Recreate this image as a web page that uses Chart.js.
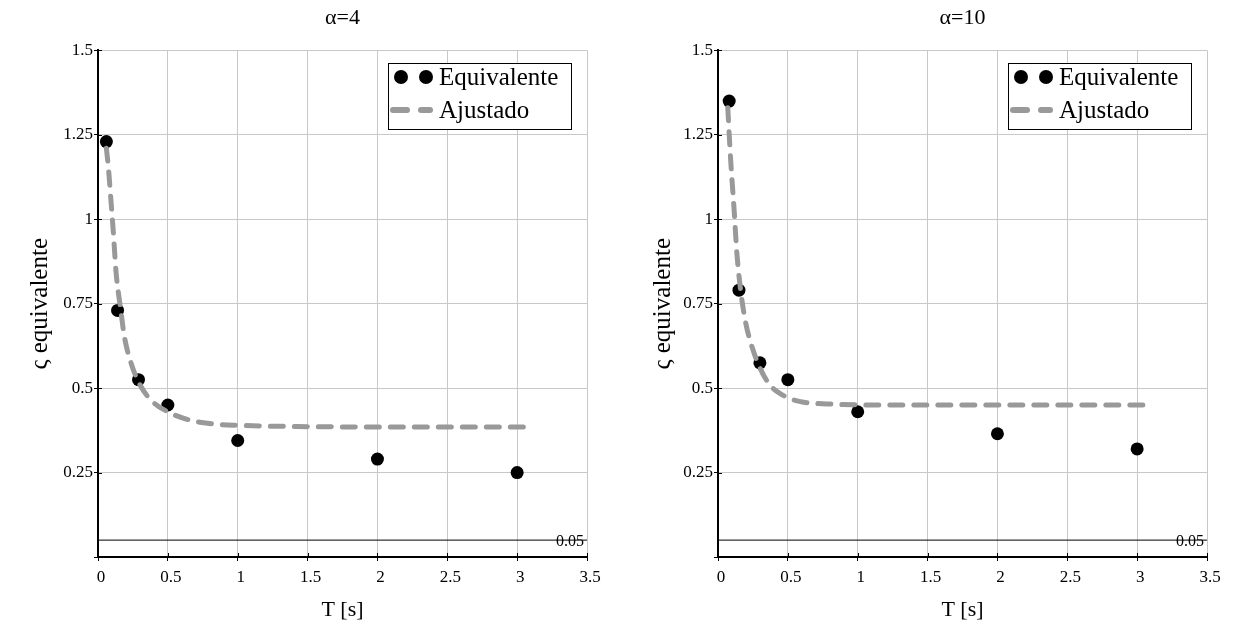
<!DOCTYPE html>
<html>
<head>
<meta charset="utf-8">
<script src="https://cdn.jsdelivr.net/npm/chart.js@4.4.1/dist/chart.umd.min.js"></script>
<style>
  body { margin: 0; width: 1233px; height: 637px; overflow: hidden; background: #fff; position: relative; }
  .panel { position: absolute; top: 0; height: 637px; }
  .legend { position: absolute; left: 388px; top: 63px; width: 184px; height: 67px; box-sizing: border-box;
    border: 1px solid #000; background: #fff; font-family: 'Liberation Serif', 'Times New Roman', serif; font-size: 25px; }
  .legend span { position: absolute; }
  .dot { width: 14px; height: 14px; border-radius: 50%; background: #000; top: 6px; }
  .dash { height: 6px; border-radius: 3px; background: #999; top: 43px; }
  .lbl { left: 50px; line-height: 30px; color: #000; }
</style>
</head>
<body>
<div class="panel" style="left:0; width:616px;">
  <canvas id="chart4"></canvas>
  <div class="legend">
    <span class="dot" style="left:5px"></span><span class="dot" style="left:30px"></span>
    <span class="lbl" style="top:-2px">Equivalente</span>
    <span class="dash" style="left:1px; width:20px"></span><span class="dash" style="left:29px; width:15px"></span>
    <span class="lbl" style="top:31px">Ajustado</span>
  </div>
</div>
<div class="panel" style="left:620px; width:613px;">
  <canvas id="chart10"></canvas>
  <div class="legend">
    <span class="dot" style="left:5px"></span><span class="dot" style="left:30px"></span>
    <span class="lbl" style="top:-2px">Equivalente</span>
    <span class="dash" style="left:1px; width:20px"></span><span class="dash" style="left:29px; width:15px"></span>
    <span class="lbl" style="top:31px">Ajustado</span>
  </div>
</div>
<script>
// axes
const xTicks = [0, 0.5, 1, 1.5, 2, 2.5, 3, 3.5];
const yTicks = [0, 0.25, 0.5, 0.75, 1, 1.25, 1.5];
const refLevel = 0.05;

// alpha = 4
const tEq4 = [0.06, 0.14, 0.29, 0.5, 1, 2, 3];
const sEq4 = [1.23, 0.73, 0.525, 0.45, 0.345, 0.29, 0.25];
const tFit4 = [0.06, 0.075, 0.09, 0.11, 0.13, 0.16, 0.19, 0.24, 0.3, 0.39, 0.5, 0.66, 0.8, 1, 1.5, 2, 2.5, 3.08];
const sFit4 = [1.21, 1.15, 1.07, 0.96, 0.84, 0.74, 0.65, 0.57, 0.51, 0.46, 0.43, 0.405, 0.395, 0.39, 0.386, 0.385, 0.385, 0.385];

// alpha = 10
const tEq10 = [0.08, 0.15, 0.3, 0.5, 1, 2, 3];
const sEq10 = [1.35, 0.79, 0.575, 0.525, 0.43, 0.365, 0.32];
const tFit10 = [0.07, 0.09, 0.115, 0.135, 0.165, 0.2, 0.245, 0.3, 0.37, 0.46, 0.59, 0.8, 1.16, 2, 3.08];
const sFit10 = [1.33, 1.18, 1.03, 0.9, 0.78, 0.69, 0.62, 0.56, 0.51, 0.48, 0.46, 0.453, 0.45, 0.45, 0.45];

const serif = "'Liberation Serif', 'Times New Roman', serif";
Chart.defaults.font.family = serif;
Chart.defaults.color = "#000";

const pairs = (xs, ys) => xs.map((x, i) => ({ x: x, y: ys[i] }));

// 0.05 marker label + small ticks inside the axes
const extras = {
  id: "extras",
  afterDraw(chart) {
    const { ctx, chartArea, scales } = chart;
    const py = scales.y.getPixelForValue(refLevel);
    ctx.save();
    ctx.font = "16px " + serif;
    ctx.fillStyle = "#000";
    ctx.textAlign = "right";
    ctx.textBaseline = "middle";
    ctx.fillText(String(refLevel), chartArea.right - 3, py + 2);
    ctx.strokeStyle = "#000";
    ctx.lineWidth = 1;
    ctx.beginPath();
    scales.x.ticks.forEach(t => {
      const px = Math.round(scales.x.getPixelForValue(t.value)) + 0.5;
      ctx.moveTo(px, chartArea.bottom);
      ctx.lineTo(px, chartArea.bottom - 4);
    });
    scales.y.ticks.forEach(t => {
      const p = Math.round(scales.y.getPixelForValue(t.value)) + 0.5;
      ctx.moveTo(chartArea.left, p);
      ctx.lineTo(chartArea.left + 4, p);
    });
    ctx.stroke();
    ctx.restore();
  }
};

const makeChart = (id, title, tEq, sEq, tFit, sFit, padRight, yTitlePad) => {
  const config = {
    type: "scatter",
    data: {
      datasets: [
        {
          label: "Ajustado",
          data: pairs(tFit, sFit),
          showLine: true,
          borderColor: "#999999",
          borderWidth: 5,
          borderDash: [13, 11],
          borderCapStyle: "round",
          cubicInterpolationMode: "monotone",
          pointRadius: 0,
          fill: false,
        },
        {
          label: "Equivalente",
          data: pairs(tEq, sEq),
          backgroundColor: "#000",
          borderWidth: 0,
          pointRadius: 6.5,
          showLine: false,
        },
        {
          label: "ref",
          data: pairs([xTicks[0], xTicks[xTicks.length - 1]], [refLevel, refLevel]),
          showLine: true,
          borderColor: "#000",
          borderWidth: 1,
          pointRadius: 0,
        },
      ],
    },
    options: {
      responsive: true,
      maintainAspectRatio: false,
      animation: false,
      layout: { padding: { left: 0, right: padRight, top: 0, bottom: 0 } },
      plugins: {
        legend: false,
        tooltip: { enabled: false },
        title: {
          display: true,
          text: title,
          fullSize: false,
          font: { size: 22, weight: "normal" },
          padding: { top: 5, bottom: 19 },
        },
      },
      scales: {
        x: {
          type: "linear",
          min: xTicks[0],
          max: xTicks[xTicks.length - 1],
          afterBuildTicks: s => { s.ticks = xTicks.map(v => ({ value: v })); },
          afterFit: s => { s.height = 80; },
          ticks: { callback: v => String(v), font: { size: 17 }, padding: 6, labelOffset: 3, maxRotation: 0 },
          grid: { color: "#c8c8c8", tickColor: "#000", tickLength: 4 },
          border: { color: "#000", width: 2 },
          title: { display: true, text: "T [s]", font: { size: 22 }, padding: { top: 0, bottom: 14 } },
        },
        y: {
          type: "linear",
          min: yTicks[0],
          max: yTicks[yTicks.length - 1],
          afterBuildTicks: s => { s.ticks = yTicks.map(v => ({ value: v })); },
          afterFit: s => { s.width = 98; },
          ticks: { callback: v => (v === 0 ? "" : String(v)), font: { size: 17 }, padding: 1 },
          grid: { color: "#c8c8c8", tickColor: "#000", tickLength: 4 },
          border: { color: "#000", width: 2 },
          title: { display: true, text: "ς equivalente", font: { size: 25 }, padding: { top: yTitlePad, bottom: 0 } },
        },
      },
    },
    plugins: [extras],
  };
  return new Chart(document.getElementById(id), config);
};

makeChart("chart4", "α=4", tEq4, sEq4, tFit4, sFit4, 29, 25);
makeChart("chart10", "α=10", tEq10, sEq10, tFit10, sFit10, 26, 28);
</script>
</body>
</html>
